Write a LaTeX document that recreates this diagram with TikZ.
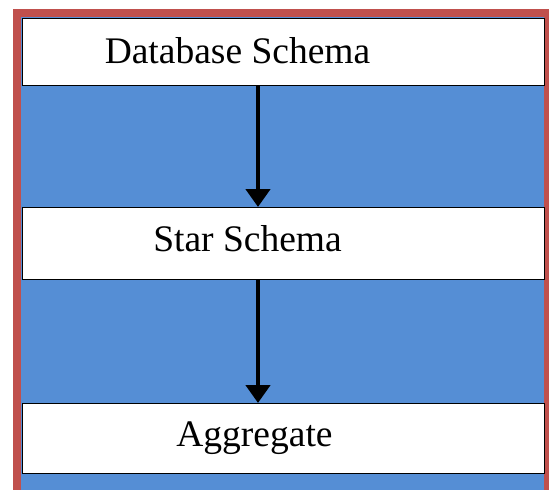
\documentclass[tikz,border=0pt]{standalone}
\usepackage{fontspec}
\setmainfont{Liberation Serif}
\usetikzlibrary{arrows.meta}
\definecolor{frame}{HTML}{C0504D}
\definecolor{bg}{HTML}{558ED5}
\tikzset{
  box/.style={draw=black, line width=1.2pt, fill=white, minimum width=522pt, inner sep=0pt, anchor=north west},
  lbl/.style={anchor=base, inner sep=0pt, font=\fontsize{37.5}{40}\selectfont},
  arr/.style={line width=4.5pt, -{Triangle[width=24pt,length=18pt]}},
}
\begin{document}
\begin{tikzpicture}[x=1pt,y=-1pt]
\useasboundingbox (0,0) rectangle (549,490);
\begin{scope}
\clip (0,0) rectangle (549,490);
\fill[frame] (13,9) rectangle (553,495);
\fill[bg] (21,17) rectangle (544,495);
\end{scope}
\node[box, minimum height=67.5pt] (b1) at (21.5,17.5) {};
\node[box, minimum height=72pt] (b2) at (21.5,207) {};
\node[box, minimum height=70pt] (b3) at (21.5,403) {};
\node[lbl] (t1) at (237.5,63) {Database Schema};
\node[lbl] (t2) at (247.5,251) {Star Schema};
\node[lbl] (t3) at (254.5,446) {Aggregate};
\coordinate (ax) at (258,0);
\draw[arr] (b1.south -| ax) -- (b2.north -| ax);
\draw[arr] (b2.south -| ax) -- (b3.north -| ax);
\end{tikzpicture}
\end{document}
